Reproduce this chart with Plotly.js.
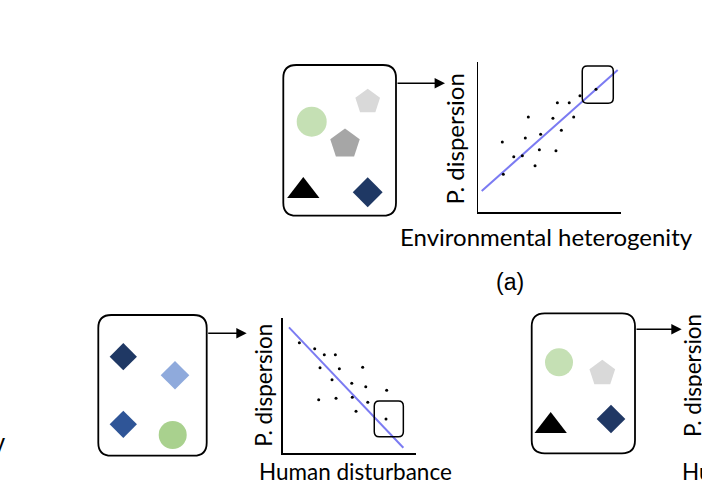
<!DOCTYPE html>
<html>
<head>
<meta charset="utf-8">
<script src="https://cdn.plot.ly/plotly-3.0.1.min.js"></script>
<style>html,body{margin:0;padding:0;background:#fff;}#chart{width:702px;height:491px;}</style>
</head>
<body>
<div id="chart"></div>
<script>
// ---- Data: panel (a) Environmental heterogeneity vs phylogenetic dispersion
const envHetX = [1.77, 1.70, 2.50, 3.10, 3.31, 3.52, 3.99, 4.29, 4.38, 5.24, 5.45, 5.55, 5.83, 6.38, 6.69, 7.13, 8.25];
const envHetY = [2.51, 4.67, 3.69, 3.75, 4.93, 6.33, 3.09, 4.15, 5.18, 6.25, 4.09, 7.29, 5.45, 7.29, 6.33, 7.75, 8.18];
const envFitX = [0.26, 9.77];
const envFitY = [1.40, 9.47];

// ---- Data: panel (b) Human disturbance vs phylogenetic dispersion
const humX = [1.25, 2.40, 3.12, 3.95, 2.80, 4.25, 6.00, 3.70, 5.18, 6.23, 7.80, 2.70, 4.00, 5.22, 6.38, 5.50, 7.75];
const humY = [8.19, 7.75, 7.30, 7.30, 6.34, 6.27, 6.37, 5.45, 5.19, 4.93, 4.67, 3.97, 4.07, 4.15, 3.78, 3.11, 2.54];
const humFitX = [0.47, 9.05];
const humFitY = [9.33, 0.41];

// ---- Species icons in community boxes
const iconSymbols = ['pentagon', 'circle', 'pentagon', 'triangle-up', 'diamond',
                     'diamond', 'diamond', 'diamond', 'circle',
                     'circle', 'pentagon', 'triangle-up', 'diamond'];
const iconColors = ['#d9d9d9', '#c5e0b4', '#a6a6a6', '#000000', '#1f3864',
                    '#1f3864', '#8faadc', '#2f5597', '#a9d18e',
                    '#c5e0b4', '#d9d9d9', '#000000', '#203864'];
const iconX = [367.7, 311.7, 345.0, 303.3, 367.7, 123.3, 175.0, 123.3, 172.7, 559.0, 602.3, 550.7, 611.0];
const iconY = [101.7, 121.7, 144.0, 191.0, 192.3, 356.7, 375.3, 424.3, 435.0, 362.3, 373.3, 426.0, 419.0];
const iconSize = [26, 30, 31, 28, 23, 21, 22, 21, 28, 28, 27, 28, 22];

const W = 702, H = 491;
const font = 'Lato, "Open Sans", sans-serif';
const lineColor = '#7b7bf2';

function rr(x0, y0, x1, y1, rx, ry) {
  if (ry === undefined) ry = rx;
  return `M ${x0+rx},${y0} L ${x1-rx},${y0} Q ${x1},${y0} ${x1},${y0+ry} L ${x1},${y1-ry} Q ${x1},${y1} ${x1-rx},${y1} L ${x0+rx},${y1} Q ${x0},${y1} ${x0},${y1-ry} L ${x0},${y0+ry} Q ${x0},${y0} ${x0+rx},${y0} Z`;
}

const traces = [
  { type: 'scatter', mode: 'markers', x: iconX, y: iconY, xaxis: 'x', yaxis: 'y',
    marker: { symbol: iconSymbols, color: iconColors, size: iconSize, opacity: 1, line: { width: 0 } },
    hoverinfo: 'skip', cliponaxis: false },
  { type: 'scatter', mode: 'lines', x: envFitX, y: envFitY, xaxis: 'x2', yaxis: 'y2',
    line: { color: lineColor, width: 2 }, hoverinfo: 'skip' },
  { type: 'scatter', mode: 'markers', x: envHetX, y: envHetY, xaxis: 'x2', yaxis: 'y2',
    marker: { color: '#000', size: 3, opacity: 1 }, hoverinfo: 'skip' },
  { type: 'scatter', mode: 'lines', x: humFitX, y: humFitY, xaxis: 'x3', yaxis: 'y3',
    line: { color: lineColor, width: 2 }, hoverinfo: 'skip' },
  { type: 'scatter', mode: 'markers', x: humX, y: humY, xaxis: 'x3', yaxis: 'y3',
    marker: { color: '#000', size: 3, opacity: 1 }, hoverinfo: 'skip' }
];

const hidden = { showgrid: false, zeroline: false, showticklabels: false, ticks: '', showline: false, fixedrange: true };
function scAxis(domain) {
  return { domain: domain, range: [0, 10], showgrid: false, zeroline: false, showticklabels: false,
           ticks: '', showline: true, linecolor: '#000', linewidth: 1.5, fixedrange: true };
}

const layout = {
  width: W, height: H,
  margin: { l: 0, r: 0, t: 0, b: 0 },
  paper_bgcolor: '#fff', plot_bgcolor: 'rgba(0,0,0,0)',
  showlegend: false,
  xaxis: Object.assign({ domain: [0, 1], range: [0, W] }, hidden),
  yaxis: Object.assign({ domain: [0, 1], range: [H, 0] }, hidden),
  xaxis2: Object.assign(scAxis([478 / W, 621 / W]), { anchor: 'y2' }),
  yaxis2: Object.assign(scAxis([1 - 212 / H, 1 - 62 / H]), { anchor: 'x2' }),
  xaxis3: Object.assign(scAxis([282.7 / W, 416 / W]), { anchor: 'y3' }),
  yaxis3: Object.assign(scAxis([1 - 453.3 / H, 1 - 318.3 / H]), { anchor: 'x3' }),
  shapes: [
    { type: 'path', xref: 'x', yref: 'y', path: rr(283.3, 65, 396, 215.7, 13), line: { color: '#000', width: 1.8 } },
    { type: 'path', xref: 'x', yref: 'y', path: rr(98.3, 315, 206.7, 455.7, 13), line: { color: '#000', width: 1.8 } },
    { type: 'path', xref: 'x', yref: 'y', path: rr(531.7, 313.3, 635, 453.3, 13), line: { color: '#000', width: 1.8 } },
    { type: 'path', xref: 'x2', yref: 'y2', path: rr(7.29, 7.25, 9.46, 9.73, 0.35, 0.33), line: { color: '#000', width: 1.5 } },
    { type: 'path', xref: 'x3', yref: 'y3', path: rr(6.87, 1.23, 9.05, 3.87, 0.37, 0.37), line: { color: '#000', width: 1.5 } }
  ],
  annotations: [
    // arrows
    { xref: 'x', yref: 'y', axref: 'x', ayref: 'y', x: 445, y: 83.3, ax: 396, ay: 83.3, text: '',
      showarrow: true, arrowhead: 2, arrowsize: 1.3, arrowwidth: 1.6, arrowcolor: '#000' },
    { xref: 'x', yref: 'y', axref: 'x', ayref: 'y', x: 246.7, y: 333.3, ax: 206.7, ay: 333.3, text: '',
      showarrow: true, arrowhead: 2, arrowsize: 1.3, arrowwidth: 1.6, arrowcolor: '#000' },
    { xref: 'x', yref: 'y', axref: 'x', ayref: 'y', x: 681.7, y: 329.3, ax: 635, ay: 329.3, text: '',
      showarrow: true, arrowhead: 2, arrowsize: 1.3, arrowwidth: 1.6, arrowcolor: '#000' },
    // y labels
    { xref: 'x', yref: 'y', x: 453.5, y: 139, text: 'P. dispersion', textangle: -90, showarrow: false,
      font: { family: font, size: 24, color: '#000' } },
    { xref: 'x', yref: 'y', x: 264, y: 385.8, text: 'P. dispersion', textangle: -90, showarrow: false,
      font: { family: font, size: 22.5, color: '#000' } },
    { xref: 'x', yref: 'y', x: 692, y: 376, text: 'P. dispersion', textangle: -90, showarrow: false,
      font: { family: font, size: 22.5, color: '#000' } },
    // x labels
    { xref: 'x', yref: 'y', x: 546.5, y: 236, text: 'Environmental heterogenity', showarrow: false,
      font: { family: font, size: 24, color: '#000' } },
    { xref: 'x', yref: 'y', x: 355.3, y: 471, text: 'Human disturbance', showarrow: false,
      font: { family: font, size: 22.5, color: '#000' } },
    { xref: 'x', yref: 'y', x: 680, y: 471, xanchor: 'left', text: 'Human disturbance', showarrow: false,
      font: { family: font, size: 22.5, color: '#000' } },
    // panel label
    { xref: 'x', yref: 'y', x: 510, y: 282, text: '(a)', showarrow: false,
      font: { family: 'Liberation Sans, Arial, sans-serif', size: 23, color: '#000' } },
    // partial text at left edge
    { xref: 'x', yref: 'y', x: 7, y: 442, xanchor: 'right', text: 'y', showarrow: false,
      font: { family: 'Liberation Sans, Arial, sans-serif', size: 24, color: '#000' } }
  ]
};

Plotly.newPlot('chart', traces, layout, { staticPlot: true, displayModeBar: false });
</script>
</body>
</html>
